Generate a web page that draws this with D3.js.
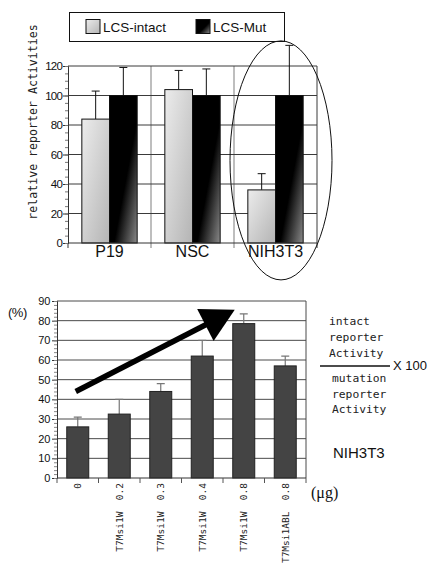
<!DOCTYPE html>
<html>
<head>
<meta charset="utf-8">
<script src="https://cdn.jsdelivr.net/npm/d3@7"></script>
<style>
  html, body { margin: 0; padding: 0; background: #fff; }
  svg { display: block; }
  .mono { font-family: "DejaVu Sans Mono", "Liberation Mono", monospace; }
  .sans { font-family: "Liberation Sans", Arial, sans-serif; }
</style>
</head>
<body>
<svg id="chart" width="430" height="564"></svg>
<script>
// top panel: relative reporter activities
const cellLines = ['P19', 'NSC', 'NIH3T3'];
const seriesNames = ['LCS-intact', 'LCS-Mut'];
const intactValues = [84, 104, 36];
const intactErrors = [19, 13, 11];
const mutValues = [100, 100, 100];
const mutErrors = [19, 18, 34];
const topTicks = [0, 20, 40, 60, 80, 100, 120];

// bottom panel: intact / mutation x 100 in NIH3T3
const doseLabels = ['0', 'T7Msi1W  0.2', 'T7Msi1W  0.3', 'T7Msi1W  0.4', 'T7Msi1W  0.8', 'T7Msi1ABL  0.8'];
const ratioValues = [26, 32.5, 44, 62, 78.5, 57];
const ratioErrors = [5, 7.5, 4, 8, 5, 5];
const bottomTicks = [0, 10, 20, 30, 40, 50, 60, 70, 80, 90];

const svg = d3.select('#chart');
svg.append('rect').attr('width', 430).attr('height', 564).attr('fill', '#fff');

const defs = svg.append('defs');
function diagGradient(id, stops) {
  const g = defs.append('linearGradient').attr('id', id)
    .attr('x1', 0).attr('y1', 0).attr('x2', 1).attr('y2', 1);
  stops.forEach(s => g.append('stop').attr('offset', s[0]).attr('stop-color', s[1]));
}
diagGradient('gIntact', [[0, '#ececec'], [1, '#b4b4b4']]);
diagGradient('gMut', [[0, '#000'], [0.58, '#000'], [1, '#8a8a8a']]);
const fills = ['url(#gIntact)', 'url(#gMut)'];

// ---------- top chart ----------
const TOP = { left: 68, right: 317, top: 66, bottom: 243 };

const x0 = d3.scaleBand().domain(cellLines).range([TOP.left, TOP.right]).padding(0);
const x1 = d3.scaleBand().domain(seriesNames).range([0, x0.bandwidth()])
  .paddingInner(0).paddingOuter(0.5);
const yTop = d3.scaleLinear().domain([0, 120]).range([TOP.bottom, TOP.top]);

const topG = svg.append('g');

// vertical separators (light) extending below axis as ticks
const bounds = cellLines.map(c => x0(c)).concat([TOP.right]);
topG.selectAll('.vsep').data(bounds.slice(1, -1)).enter().append('line')
  .attr('x1', d => d).attr('x2', d => d)
  .attr('y1', TOP.top).attr('y2', TOP.bottom + 5)
  .attr('stroke', '#a8a8a8').attr('stroke-width', 1.5);
topG.selectAll('.xtick').data([bounds[0], bounds[bounds.length - 1]]).enter().append('line')
  .attr('x1', d => d).attr('x2', d => d)
  .attr('y1', TOP.bottom).attr('y2', TOP.bottom + 5)
  .attr('stroke', '#333');

// horizontal grid
topG.selectAll('.hgrid').data(topTicks.slice(1)).enter().append('line')
  .attr('x1', TOP.left).attr('x2', TOP.right)
  .attr('y1', d => yTop(d)).attr('y2', d => yTop(d))
  .attr('stroke', '#3a3a3a').attr('stroke-width', 1);
topG.append('line').attr('x1', TOP.right).attr('x2', TOP.right)
  .attr('y1', TOP.top).attr('y2', TOP.bottom).attr('stroke', '#3a3a3a');

// y axis
const yAxisTop = d3.axisLeft(yTop).tickValues(topTicks).tickSize(5).tickPadding(1);
const gyTop = topG.append('g').attr('transform', `translate(${TOP.left},0)`).call(yAxisTop);
gyTop.select('.domain').attr('stroke', '#333');
gyTop.selectAll('.tick line').attr('stroke', '#333');
gyTop.selectAll('text').attr('class', 'sans').attr('font-size', 11.5)
  .attr('letter-spacing', -0.8).attr('fill', '#111');
topG.append('g').attr('transform', `translate(${TOP.left},0)`)
  .call(d3.axisLeft(yTop).tickValues(d3.range(0, 121, 5)).tickSize(3).tickFormat(''))
  .call(g => g.select('.domain').remove())
  .selectAll('line').attr('stroke', '#777');

// bars
const topData = cellLines.map((c, i) => ({
  cell: c,
  items: [
    { s: seriesNames[0], v: intactValues[i], e: intactErrors[i], k: 0 },
    { s: seriesNames[1], v: mutValues[i], e: mutErrors[i], k: 1 }
  ]
}));
const groups = topG.selectAll('.grp').data(topData).enter().append('g')
  .attr('transform', d => `translate(${x0(d.cell)},0)`);

groups.selectAll('.err').data(d => d.items).enter().append('path')
  .attr('d', d => {
    const cx = x1(d.s) + x1.bandwidth() / 2;
    const yt = yTop(d.v + d.e);
    return `M${cx},${yTop(d.v)}V${yt}M${cx - 4},${yt}H${cx + 4}`;
  })
  .attr('stroke', '#111').attr('fill', 'none');

groups.selectAll('.bar').data(d => d.items).enter().append('rect')
  .attr('x', d => x1(d.s)).attr('width', x1.bandwidth())
  .attr('y', d => yTop(d.v)).attr('height', d => yTop(0) - yTop(d.v))
  .attr('fill', d => fills[d.k]).attr('stroke', '#111').attr('stroke-width', 1);

// x axis line
topG.append('line').attr('x1', TOP.left).attr('x2', TOP.right)
  .attr('y1', yTop(0)).attr('y2', yTop(0)).attr('stroke', '#333');

topG.selectAll('.xlab').data(cellLines).enter().append('text')
  .attr('class', 'sans').attr('font-size', 16).attr('fill', '#111')
  .attr('text-anchor', 'middle')
  .attr('x', d => x0(d) + x0.bandwidth() / 2).attr('y', TOP.bottom + 14)
  .text(d => d);

// y title
svg.append('text').attr('class', 'mono').attr('font-size', 11.6).attr('fill', '#222')
  .attr('text-anchor', 'middle')
  .attr('transform', 'translate(37,122) rotate(-90)')
  .text('relative reporter Activities');

// legend
const leg = svg.append('g');
leg.append('rect').attr('x', 69.5).attr('y', 12.5).attr('width', 215).attr('height', 29)
  .attr('fill', '#fff').attr('stroke', '#111');
const legX = [86, 196];
seriesNames.forEach((s, i) => {
  leg.append('rect').attr('x', legX[i]).attr('y', 19.5).attr('width', 14).attr('height', 14)
    .attr('fill', fills[i]).attr('stroke', '#111');
  leg.append('text').attr('class', 'sans').attr('font-size', 13.5).attr('fill', '#111')
    .attr('x', legX[i] + 17).attr('y', 31.5).text(s);
});

// ellipse round NIH3T3
svg.append('ellipse')
  .attr('cx', x0('NIH3T3') + x0.bandwidth() / 2 + 5.5).attr('cy', yTop(56))
  .attr('rx', 51).attr('ry', 119.5)
  .attr('fill', 'none').attr('stroke', '#111').attr('stroke-width', 1);

// ---------- bottom chart ----------
const BOT = { left: 57, right: 306, top: 301, bottom: 478 };
const xb = d3.scaleBand().domain(d3.range(doseLabels.length)).range([BOT.left, BOT.right])
  .paddingInner(0.47).paddingOuter(0.235);
const yb = d3.scaleLinear().domain([0, 90]).range([BOT.bottom, BOT.top]);
const step = xb.step();

const bot = svg.append('g');
bot.selectAll('.hgrid').data(bottomTicks.slice(1)).enter().append('line')
  .attr('x1', BOT.left).attr('x2', BOT.right)
  .attr('y1', d => yb(d)).attr('y2', d => yb(d))
  .attr('stroke', '#4a4a4a');
bot.append('line').attr('x1', BOT.right).attr('x2', BOT.right)
  .attr('y1', BOT.top).attr('y2', BOT.bottom).attr('stroke', '#4a4a4a');

const gyb = bot.append('g').attr('transform', `translate(${BOT.left},0)`)
  .call(d3.axisLeft(yb).tickValues(bottomTicks).tickSize(5).tickPadding(2));
gyb.select('.domain').attr('stroke', '#333');
gyb.selectAll('.tick line').attr('stroke', '#333');
gyb.selectAll('text').attr('class', 'sans').attr('font-size', 11).attr('fill', '#111')
  .attr('letter-spacing', -0.3);
bot.append('g').attr('transform', `translate(${BOT.left},0)`)
  .call(d3.axisLeft(yb).tickValues(d3.range(0, 91, 2)).tickSize(3).tickFormat(''))
  .call(g => g.select('.domain').remove())
  .selectAll('line').attr('stroke', '#888');

// error bars then bars
bot.selectAll('.err').data(ratioValues).enter().append('path')
  .attr('d', (d, i) => {
    const cx = xb(i) + xb.bandwidth() / 2;
    const yt = yb(d + ratioErrors[i]);
    return `M${cx},${yb(d)}V${yt}M${cx - 4},${yt}H${cx + 4}`;
  })
  .attr('stroke', '#777').attr('stroke-width', 1.2).attr('fill', 'none');

bot.selectAll('.bar').data(ratioValues).enter().append('rect')
  .attr('x', (d, i) => xb(i)).attr('width', xb.bandwidth())
  .attr('y', d => yb(d)).attr('height', d => yb(0) - yb(d))
  .attr('fill', '#444').attr('stroke', '#222');

// x axis with ticks on category boundaries
bot.append('line').attr('x1', BOT.left).attr('x2', BOT.right)
  .attr('y1', yb(0)).attr('y2', yb(0)).attr('stroke', '#333');
bot.selectAll('.xtick').data(d3.range(doseLabels.length + 1)).enter().append('line')
  .attr('x1', d => BOT.left + d * step).attr('x2', d => BOT.left + d * step)
  .attr('y1', yb(0)).attr('y2', yb(0) + 5).attr('stroke', '#555');

bot.selectAll('.xlab').data(doseLabels).enter().append('text')
  .attr('class', 'mono').attr('font-size', 9.5).attr('fill', '#222')
  .attr('text-anchor', 'end').attr('dominant-baseline', 'central')
  .style('white-space', 'pre')
  .attr('transform', (d, i) => `translate(${xb(i) + xb.bandwidth() / 2},${BOT.bottom + 5}) rotate(-90)`)
  .text(d => d);

svg.append('text').attr('font-family', '"Liberation Serif", serif').attr('font-size', 16)
  .attr('fill', '#111').attr('x', 311).attr('y', 498).text('(μg)');
svg.append('text').attr('class', 'sans').attr('font-size', 13).attr('fill', '#111')
  .attr('x', 8).attr('y', 317).attr('letter-spacing', -0.5).text('(%)');

// trend arrow, anchored in data space
const tail = [xb(0) + xb.bandwidth() / 2 - 2, yb(44)];
const tip = [xb(4) + 2, yb(85.5)];
const dx = tip[0] - tail[0], dy = tip[1] - tail[1];
const len = Math.hypot(dx, dy);
const ux = dx / len, uy = dy / len;
const headLen = 33, headHalf = 18;
const base = [tip[0] - ux * headLen, tip[1] - uy * headLen];
svg.append('line').attr('x1', tail[0]).attr('y1', tail[1])
  .attr('x2', base[0] + ux * 2).attr('y2', base[1] + uy * 2)
  .attr('stroke', '#000').attr('stroke-width', 5.5);
svg.append('path').attr('fill', '#000').attr('d',
  `M${tip[0]},${tip[1]}L${base[0] - uy * headHalf},${base[1] + ux * headHalf}` +
  `L${base[0] + uy * headHalf},${base[1] - ux * headHalf}Z`);

// formula note on the right
const note = svg.append('g').attr('class', 'mono').attr('font-size', 11.3).attr('fill', '#222');
['intact', 'reporter', 'Activity'].forEach((t, i) => {
  note.append('text').attr('x', 329).attr('y', 325 + i * 16).text(t);
});
['mutation', 'reporter', 'Activity'].forEach((t, i) => {
  note.append('text').attr('x', 332).attr('y', 382 + i * 15.5).text(t);
});
svg.append('line').attr('x1', 320).attr('x2', 390).attr('y1', 366).attr('y2', 366)
  .attr('stroke', '#111').attr('stroke-width', 1.5);
svg.append('text').attr('class', 'sans').attr('font-size', 13).attr('fill', '#111')
  .attr('x', 393).attr('y', 370).text('X 100');
svg.append('text').attr('class', 'sans').attr('font-size', 15).attr('fill', '#111')
  .attr('x', 333).attr('y', 458).text('NIH3T3');
</script>
</body>
</html>
